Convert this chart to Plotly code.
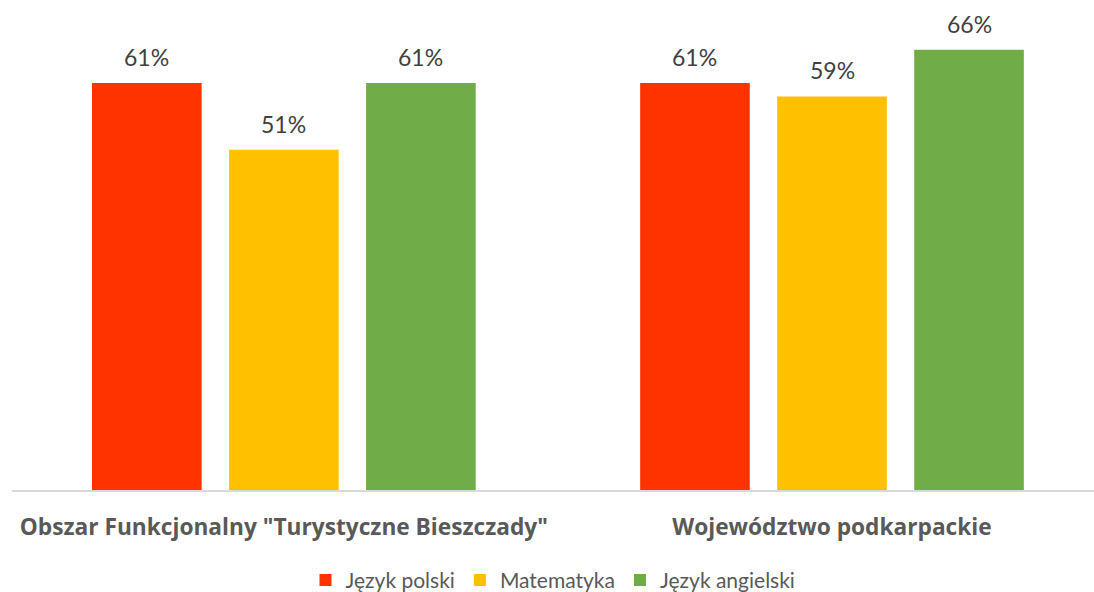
import plotly.graph_objects as go

categories = ['Obszar Funkcjonalny "Turystyczne Bieszczady"', 'Województwo podkarpackie']
series_names = ['Język polski', 'Matematyka', 'Język angielski']
values_polski = [0.61, 0.61]
values_mat = [0.51, 0.59]
values_ang = [0.61, 0.66]
colors = ['#FF3300', '#FFC000', '#70AD47']

series_values = [values_polski, values_mat, values_ang]
xpos = list(range(len(categories)))

fig = go.Figure()
for name, vals, col in zip(series_names, series_values, colors):
    fig.add_trace(go.Bar(x=xpos, y=vals, name=name, marker=dict(color=col, line=dict(width=0))))

offsets = [-0.25, 0.0, 0.25]
for off, vals in zip(offsets, series_values):
    for xi, v in zip(xpos, vals):
        fig.add_annotation(x=xi + off, y=v, text=f"{round(v*100)}%", showarrow=False,
                           yanchor='bottom', yshift=10,
                           font=dict(family="Lato, Open Sans, sans-serif", size=23, color="#404040"))

fig.update_layout(
    width=1094, height=592,
    margin=dict(l=12, r=0, t=15, b=102, autoexpand=False),
    paper_bgcolor='white', plot_bgcolor='white',
    barmode='group', bargap=0.25, bargroupgap=0.2,
    showlegend=True,
    legend=dict(orientation='h', x=0.5, xanchor='center', y=-0.19, yanchor='middle',
                font=dict(family="Lato, Open Sans, sans-serif", size=21, color="#595959"),
                traceorder='normal'),
    xaxis=dict(range=[-0.496, 1.478], tickvals=xpos, ticktext=categories,
               showline=True, linecolor='#D9D9D9', linewidth=2, showgrid=False, zeroline=False,
               ticks='', ticklabelstandoff=16, automargin=False,
               tickfont=dict(family="Open Sans, sans-serif", size=22.7, color="#595959", weight='bold')),
    yaxis=dict(range=[0, 0.712], visible=False, showgrid=False, zeroline=False, automargin=False),
)

fig.write_html("out.html", config={"displayModeBar": False},
               post_script="document.body.style.margin='0px';document.body.style.padding='0px';")
